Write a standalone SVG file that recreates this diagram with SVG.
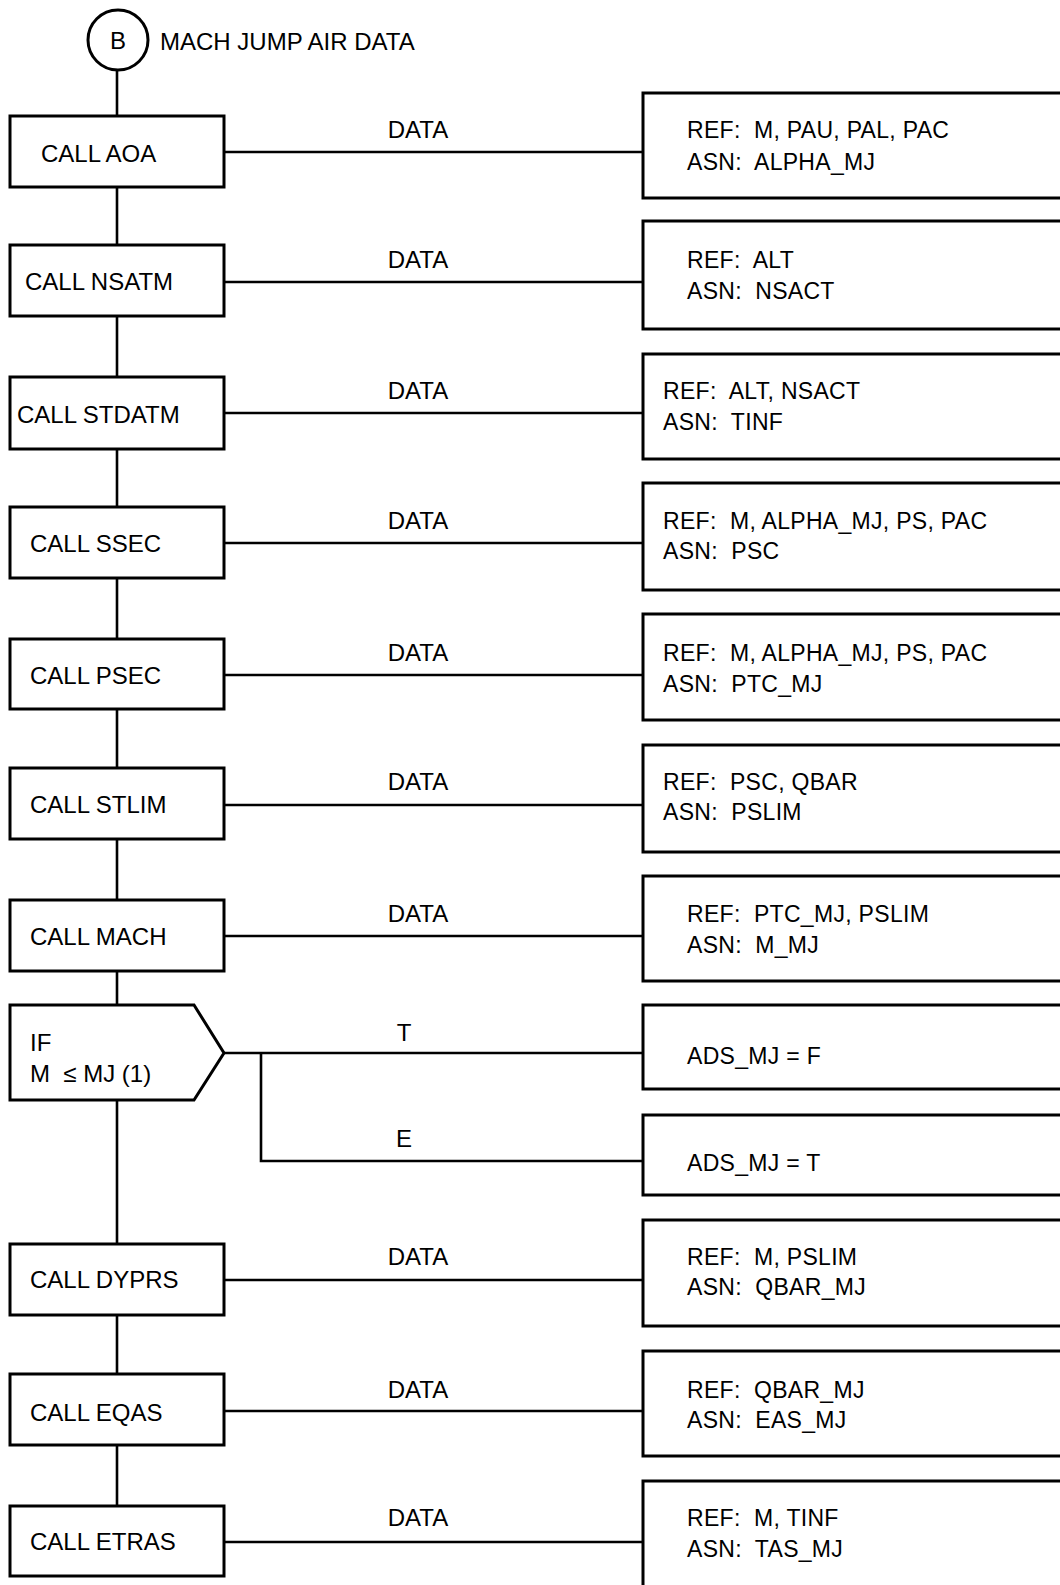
<svg xmlns="http://www.w3.org/2000/svg" width="1060" height="1585" viewBox="0 0 1060 1585" xml:space="preserve">
<style>
  .box{fill:#fff;stroke:#000;stroke-width:3}
  .ln{fill:none;stroke:#000;stroke-width:2.6}
  text{font-family:"Liberation Sans",Arial,sans-serif;font-size:24px;fill:#000;white-space:pre}
  .mid{text-anchor:middle}
  .r{font-size:23px;letter-spacing:0.3px}
</style>
<rect width="1060" height="1585" fill="#fff"/>
<g id="connectors">
  <line class="ln" x1="117" y1="71" x2="117" y2="1506"/>
  <line class="ln" x1="224" y1="152" x2="643" y2="152"/>
  <line class="ln" x1="224" y1="282" x2="643" y2="282"/>
  <line class="ln" x1="224" y1="413" x2="643" y2="413"/>
  <line class="ln" x1="224" y1="543" x2="643" y2="543"/>
  <line class="ln" x1="224" y1="675" x2="643" y2="675"/>
  <line class="ln" x1="224" y1="805" x2="643" y2="805"/>
  <line class="ln" x1="224" y1="936" x2="643" y2="936"/>
  <line class="ln" x1="224" y1="1053" x2="643" y2="1053"/>
  <polyline class="ln" points="261,1053 261,1161 643,1161"/>
  <line class="ln" x1="224" y1="1280" x2="643" y2="1280"/>
  <line class="ln" x1="224" y1="1411" x2="643" y2="1411"/>
  <line class="ln" x1="224" y1="1542" x2="643" y2="1542"/>
  <text class="mid" x="418" y="138">DATA</text>
  <text class="mid" x="418" y="268">DATA</text>
  <text class="mid" x="418" y="399">DATA</text>
  <text class="mid" x="418" y="529">DATA</text>
  <text class="mid" x="418" y="661">DATA</text>
  <text class="mid" x="418" y="790">DATA</text>
  <text class="mid" x="418" y="922">DATA</text>
  <text class="mid" x="404" y="1041">T</text>
  <text class="mid" x="404" y="1147">E</text>
  <text class="mid" x="418" y="1265">DATA</text>
  <text class="mid" x="418" y="1398">DATA</text>
  <text class="mid" x="418" y="1526">DATA</text>
</g>
<g id="start">
  <circle class="box" cx="118" cy="40" r="30"/>
  <text class="mid" x="118" y="49">B</text>
  <text x="160" y="50">MACH JUMP AIR DATA</text>
</g>
<g id="n1"><rect class="box" x="10" y="116" width="214" height="71"/><text x="41" y="162">CALL AOA</text></g>
<g id="n2"><rect class="box" x="10" y="245" width="214" height="71"/><text x="25" y="290">CALL NSATM</text></g>
<g id="n3"><rect class="box" x="10" y="377" width="214" height="72"/><text x="17" y="423">CALL STDATM</text></g>
<g id="n4"><rect class="box" x="10" y="507" width="214" height="71"/><text x="30" y="552">CALL SSEC</text></g>
<g id="n5"><rect class="box" x="10" y="639" width="214" height="70"/><text x="30" y="684">CALL PSEC</text></g>
<g id="n6"><rect class="box" x="10" y="768" width="214" height="71"/><text x="30" y="813">CALL STLIM</text></g>
<g id="n7"><rect class="box" x="10" y="900" width="214" height="71"/><text x="30" y="945">CALL MACH</text></g>
<g id="n8"><polygon class="box" points="10,1005 194,1005 224,1053 194,1100 10,1100"/><text x="30" y="1051">IF</text><text x="30" y="1082">M  ≤ MJ (1)</text></g>
<g id="n9"><rect class="box" x="10" y="1244" width="214" height="71"/><text x="30" y="1288">CALL DYPRS</text></g>
<g id="n10"><rect class="box" x="10" y="1374" width="214" height="71"/><text x="30" y="1421">CALL EQAS</text></g>
<g id="n11"><rect class="box" x="10" y="1506" width="214" height="70"/><text x="30" y="1550">CALL ETRAS</text></g>

<g id="d1"><rect class="box" x="643" y="93" width="430" height="105"/><text class="r" x="687" y="138">REF:  M, PAU, PAL, PAC</text><text class="r" x="687" y="170">ASN:  ALPHA_MJ</text></g>
<g id="d2"><rect class="box" x="643" y="221" width="430" height="108"/><text class="r" x="687" y="268">REF:  ALT</text><text class="r" x="687" y="299">ASN:  NSACT</text></g>
<g id="d3"><rect class="box" x="643" y="354" width="430" height="105"/><text class="r" x="663" y="399">REF:  ALT, NSACT</text><text class="r" x="663" y="430">ASN:  TINF</text></g>
<g id="d4"><rect class="box" x="643" y="483" width="430" height="107"/><text class="r" x="663" y="529">REF:  M, ALPHA_MJ, PS, PAC</text><text class="r" x="663" y="559">ASN:  PSC</text></g>
<g id="d5"><rect class="box" x="643" y="614" width="430" height="106"/><text class="r" x="663" y="661">REF:  M, ALPHA_MJ, PS, PAC</text><text class="r" x="663" y="692">ASN:  PTC_MJ</text></g>
<g id="d6"><rect class="box" x="643" y="745" width="430" height="107"/><text class="r" x="663" y="790">REF:  PSC, QBAR</text><text class="r" x="663" y="820">ASN:  PSLIM</text></g>
<g id="d7"><rect class="box" x="643" y="876" width="430" height="105"/><text class="r" x="687" y="922">REF:  PTC_MJ, PSLIM</text><text class="r" x="687" y="953">ASN:  M_MJ</text></g>
<g id="d8"><rect class="box" x="643" y="1005" width="430" height="84"/><text class="r" x="687" y="1064">ADS_MJ = F</text></g>
<g id="d9"><rect class="box" x="643" y="1115" width="430" height="80"/><text class="r" x="687" y="1171">ADS_MJ = T</text></g>
<g id="d10"><rect class="box" x="643" y="1220" width="430" height="106"/><text class="r" x="687" y="1265">REF:  M, PSLIM</text><text class="r" x="687" y="1295">ASN:  QBAR_MJ</text></g>
<g id="d11"><rect class="box" x="643" y="1351" width="430" height="105"/><text class="r" x="687" y="1398">REF:  QBAR_MJ</text><text class="r" x="687" y="1428">ASN:  EAS_MJ</text></g>
<g id="d12"><rect class="box" x="643" y="1481" width="430" height="130"/><text class="r" x="687" y="1526">REF:  M, TINF</text><text class="r" x="687" y="1557">ASN:  TAS_MJ</text></g>
</svg>
